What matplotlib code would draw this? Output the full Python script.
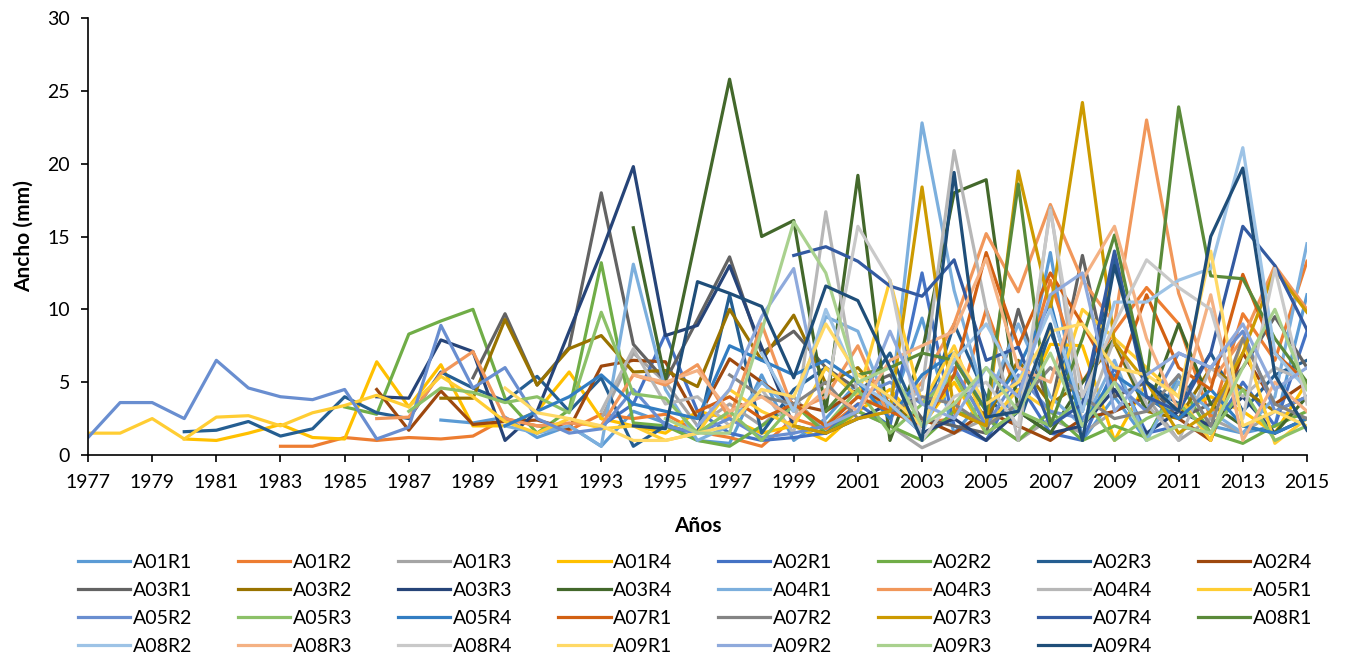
import numpy as np
import matplotlib
matplotlib.use("Agg")
from matplotlib import pyplot as plt

years = list(range(1977, 2016))
nan = np.nan

# (first year, widths in mm)
A01R1 = (1988, [2.4, 2.2, 2.6, 1.2, 2.0, 0.6, 3.0, 2.2, 1.0, 0.8, 5.5, 1.0, 2.5, 5.0, 3.0, 9.4, 1.5, 4.0, 3.0, 13.9, 1.0, 4.0, 1.0, 5.5, 2.0, 1.5, 2.0, 11.0])
A01R2 = (1983, [0.6, 0.6, 1.2, 1.0, 1.2, 1.1, 1.3, 2.5, 2.0, 1.7, 2.8, 2.5, 2.8, 1.6, 1.2, 0.6, 2.5, 1.8, 3.5, 4.0, 2.2, 2.5, 10.0, 4.0, 12.0, 5.0, 8.5, 11.5, 9.0, 2.5, 9.7, 6.5, 13.3])
A01R3 = (1993, [2.5, 7.0, 5.0, 2.0, 3.5, 2.0, 4.0, 1.5, 3.0, 2.0, 0.5, 1.5, 2.5, 1.0, 2.5, 1.5, 3.0, 4.0, 1.0, 2.5, 1.5, 3.0, 2.5])
A01R4 = (1980, [1.1, 1.0, 1.5, 2.1, 1.2, 1.1, 6.4, 3.3, 6.2, 2.0, 2.0, 3.0, 5.7, 2.5, 2.0, 1.5, 3.0, 2.5, 1.5, 2.0, 1.0, 3.0, 4.5, 2.0, 5.0, 1.5, 3.0, 7.6, 7.5, 1.0, 5.0, 3.0, 4.0, 3.0, 1.5, 5.0])
A02R1 = (1993, [2.0, 3.5, 8.3, 3.0, 1.5, 1.0, 1.2, 1.5, 3.5, 2.0, 12.5, 2.0, 1.0, 5.0, 1.5, 1.0, 6.0, 1.5, 2.0, 1.5, 5.0, 2.0, 8.5])
A02R2 = (1985, [3.3, 2.8, 8.3, 9.2, 10.0, 3.9, 1.5, 3.1, 13.2, 2.2, 2.0, 1.0, 0.6, 2.0, 3.5, 1.5, 3.0, 2.0, 1.0, 3.0, 2.5, 1.0, 3.0, 1.0, 2.0, 1.2, 5.0, 1.5, 0.8, 2.0, 3.0])
A02R3 = (1980, [1.6, 1.7, 2.3, 1.3, 1.8, 4.0, 2.9, 2.5, 5.7, 4.6, 3.7, 5.4, 3.0, 5.3, 0.6, 2.0, 1.5, 11.0, 1.5, 4.5, 6.0, 4.0, 7.0, 2.0, 9.0, 4.0, 2.0, 8.5, 3.0, 13.5, 5.0, 3.5, 7.0, 3.0, 5.5, 6.5])
A02R4 = (1986, [4.5, 1.7, 4.4, 2.1, 2.3, 2.4, 1.8, 6.1, 6.5, 6.4, 2.5, 6.6, 5.0, 3.5, 3.0, 4.5, 3.5, 2.5, 1.5, 3.0, 2.0, 1.0, 2.5, 3.0, 4.0, 2.5, 1.0, 7.0, 3.5, 5.0])
A03R1 = (1989, [5.3, 9.7, 4.8, 7.4, 18.0, 7.6, 5.1, 9.3, 13.6, 7.0, 8.5, 6.0, 4.5, 5.5, 2.5, 2.0, 1.5, 10.0, 3.0, 13.7, 4.0, 5.0, 2.5, 3.5, 6.0, 9.5, 6.0])
A03R2 = (1988, [3.9, 3.9, 9.3, 4.8, 7.3, 8.2, 5.7, 5.8, 4.7, 10.0, 6.5, 9.6, 4.9, 6.0, 3.5, 2.0, 5.5, 2.5, 6.5, 3.5, 5.0, 7.7, 3.0, 2.5, 6.0, 4.5, 3.0, 4.0])
A03R3 = (1986, [4.0, 3.9, 7.9, 7.1, 1.0, 3.0, 8.5, 13.9, 19.8, 8.2, 8.9, 13.0, 7.4, 2.0, 1.5, 2.5, 3.5, 1.5, 2.5, 1.0, 3.0, 1.5, 2.0, 4.5, 1.5, 3.0, 2.0, 4.0, 1.5, 2.5])
A03R4 = (1994, [15.6, 5.1, 15.4, 25.8, 15.0, 16.1, 3.0, 19.2, 1.0, 7.0, 18.0, 18.9, 3.0, 1.5, 5.0, 8.0, 3.0, 9.0, 3.5, 2.0, 1.5, 4.0])
A04R1 = (1990, [2.0, 1.5, 2.0, 0.6, 13.1, 4.5, 1.0, 2.0, 5.0, 3.0, 9.5, 8.5, 3.0, 22.8, 11.3, 3.5, 9.0, 4.0, 2.0, 6.5, 1.0, 5.0, 3.0, 1.5, 4.0, 14.5])
A04R3 = (1986, [2.5, 2.6, 5.6, 7.1, 2.5, 2.0, 2.2, 2.0, 5.5, 4.8, 6.2, 2.5, 9.0, 3.0, 4.0, 7.5, 2.5, 5.0, 9.0, 15.2, 11.2, 17.2, 12.0, 9.0, 23.0, 11.1, 5.0, 8.0, 13.0, 10.0])
A04R4 = (1993, [3.0, 7.3, 3.5, 4.0, 2.0, 4.5, 1.5, 16.7, 4.0, 3.0, 4.5, 20.9, 10.0, 1.0, 17.0, 2.0, 8.0, 3.5, 1.0, 6.0, 4.0, 6.0, 5.0])
A05R1 = (1977, [1.5, 1.5, 2.5, 1.1, 2.6, 2.7, 2.0, 2.9, 3.4, 4.1, 3.3, 5.4, 4.0, 2.3, 1.5, 2.5, 1.8, 2.0, 1.0, 1.5, 4.5, 3.0, 2.0, 6.0, 4.0, 12.0, 3.5, 7.5, 2.0, 4.5, 3.0, 10.0, 8.0, 6.0, 4.0, 1.0, 8.0, 0.8, 2.5])
A05R2 = (1977, [1.2, 3.6, 3.6, 2.5, 6.5, 4.6, 4.0, 3.8, 4.5, 1.1, 1.9, 8.9, 4.6, 6.0, 2.5, 1.5, 1.8, 4.5, 2.0, 1.5, 2.5, 1.2, 1.5, 2.0, 4.0, 5.0, 3.5, 6.0, 2.0, 5.5, 3.0, 2.5, 5.0, 3.0, 7.0, 6.0, 8.5, 3.0, 4.0])
A05R3 = (1987, [3.0, 4.6, 4.3, 3.6, 4.0, 2.9, 9.8, 4.2, 3.9, 1.5, 3.0, 1.0, 3.5, 2.0, 4.5, 1.5, 3.5, 5.5, 1.5, 3.0, 2.0, 4.0, 1.0, 2.5, 3.5, 1.5, 4.5, 1.0, 2.0])
A05R4 = (1990, [2.0, 3.0, 4.0, 5.5, 3.5, 3.0, 2.5, 7.5, 6.5, 5.5, 6.5, 5.0, 2.5, 5.5, 7.0, 3.0, 6.0, 10.5, 2.0, 5.5, 4.0, 2.5, 4.5, 2.0, 1.5, 2.5])
A07R1 = (1996, [3.0, 4.0, 2.5, 3.5, 2.0, 4.0, 3.0, 2.0, 5.5, 13.9, 7.5, 12.5, 9.0, 5.0, 11.0, 6.0, 4.5, 12.4, 7.0, 5.0])
A07R2 = (1997, [5.5, 4.0, 3.5, 5.0, 2.5, 3.0, 4.0, 3.5, 2.0, 3.5, 6.0, 4.0, 2.5, 3.0, 5.5, 2.0, 8.0, 3.5, 2.5])
A07R3 = (1999, [2.0, 1.5, 2.5, 3.0, 18.4, 3.0, 2.0, 19.5, 10.0, 24.2, 7.7, 5.0, 1.5, 3.0, 7.0, 12.7, 9.8])
A07R4 = (1999, [13.7, 14.3, 13.3, 11.6, 10.9, 13.4, 6.5, 7.4, 2.0, 3.5, 14.0, 4.0, 3.0, 7.0, 15.7, 13.0, 8.6])
A08R1 = (2000, [3.0, 5.5, 6.0, 7.0, 6.5, 3.0, 18.6, 2.0, 8.0, 15.1, 5.0, 23.9, 12.3, 12.1, 8.0, 5.0])
A08R2 = (1998, [7.0, 3.0, 10.0, 5.0, 3.5, 1.5, 6.5, 9.0, 5.0, 10.0, 3.0, 10.5, 10.5, 12.0, 12.8, 21.1, 7.0, 4.5])
A08R3 = (1994, [5.5, 5.0, 5.8, 3.0, 4.0, 2.5, 4.5, 3.0, 6.5, 7.5, 8.5, 13.5, 6.0, 5.0, 12.0, 15.7, 8.0, 3.0, 11.0, 1.0, 5.0, 3.0])
A08R4 = (2000, [4.0, 15.7, 12.0, 1.0, 4.0, 5.0, 2.0, 16.8, 4.0, 9.0, 13.4, 11.5, 10.0, 2.5, 12.8, 3.5])
A09R1 = (1990, [4.6, 2.9, 2.5, 2.0, 1.0, 1.0, 1.5, 2.0, 4.5, 4.0, 9.0, 5.5, 4.0, 2.0, 7.0, 3.5, 5.0, 8.5, 9.0, 6.0, 5.5, 4.0, 14.0, 2.0, 3.0, 2.0])
A09R2 = (1996, [2.0, 4.5, 9.5, 12.8, 2.0, 3.0, 8.5, 3.5, 2.5, 6.0, 4.0, 11.0, 12.5, 3.0, 5.5, 7.0, 6.0, 9.0, 4.5, 6.0])
A09R3 = (1995, [2.5, 1.5, 1.5, 8.5, 16.0, 12.5, 5.0, 6.0, 2.0, 3.5, 6.0, 3.0, 7.0, 2.0, 5.0, 1.0, 2.0, 1.5, 6.0, 10.0, 4.5])
A09R4 = (1994, [2.0, 1.8, 11.9, 11.1, 10.2, 5.3, 11.6, 10.6, 6.0, 1.0, 19.4, 2.6, 3.0, 9.0, 1.0, 13.0, 5.0, 3.0, 15.0, 19.7, 5.5, 1.7])

series = [("A01R1", A01R1), ("A01R2", A01R2), ("A01R3", A01R3), ("A01R4", A01R4),
          ("A02R1", A02R1), ("A02R2", A02R2), ("A02R3", A02R3), ("A02R4", A02R4),
          ("A03R1", A03R1), ("A03R2", A03R2), ("A03R3", A03R3), ("A03R4", A03R4),
          ("A04R1", A04R1), ("A04R3", A04R3), ("A04R4", A04R4), ("A05R1", A05R1),
          ("A05R2", A05R2), ("A05R3", A05R3), ("A05R4", A05R4), ("A07R1", A07R1),
          ("A07R2", A07R2), ("A07R3", A07R3), ("A07R4", A07R4), ("A08R1", A08R1),
          ("A08R2", A08R2), ("A08R3", A08R3), ("A08R4", A08R4), ("A09R1", A09R1),
          ("A09R2", A09R2), ("A09R3", A09R3), ("A09R4", A09R4)]

colors = ["#5B9BD5", "#ED7D31", "#A5A5A5", "#FFC000", "#4472C4", "#70AD47",
          "#255E91", "#9E480E", "#636363", "#997300", "#264478", "#43682B",
          "#7CAFDD", "#F1975A", "#B7B7B7", "#FFCD33", "#698ED0", "#8CC168",
          "#327DC2", "#D26012", "#848484", "#CC9A00", "#335AA1", "#5A8A39",
          "#9DC3E6", "#F4B183", "#C9C9C9", "#FFD966", "#8FAADC", "#A9D18E",
          "#1F4E79"]

plt.rcParams['font.family'] = ['Lato', 'DejaVu Sans']

fig = plt.figure(figsize=(13.46, 6.58), dpi=100)
ax = fig.add_axes([0.0654, 0.3085, 0.9056, 0.6641])

handles = []
for (name, (start, vals)), c in zip(series, colors):
    y = [nan] * (start - years[0]) + vals
    y = y + [nan] * (len(years) - len(y))
    h, = ax.plot(years, y[:len(years)], color=c, lw=2.3, label=name)
    handles.append(h)

ax.set_xlim(1977, 2015)
ax.set_ylim(0, 30)
ax.set_xticks(range(1977, 2016, 2))
ax.set_yticks(range(0, 31, 5))
ax.tick_params(axis='both', labelsize=14, length=5, width=1.2, direction='out')
ax.tick_params(axis='x', pad=9)
ax.tick_params(axis='y', pad=8)
for s in ['top', 'right']:
    ax.spines[s].set_visible(False)
for s in ['left', 'bottom']:
    ax.spines[s].set_linewidth(1.2)
ax.set_ylabel("Ancho (mm)", fontsize=15, fontweight='bold', labelpad=10)
ax.set_xlabel("Años", fontsize=15, fontweight='bold', labelpad=18)

# legend reads row by row: reorder for matplotlib's column filling
ncol = 8
order = []
for j in range(ncol):
    order += list(range(j, len(handles), ncol))
fig.legend([handles[i] for i in order], [series[i][0] for i in order],
           loc='upper left', bbox_to_anchor=(0.052, 0.170, 0.929, 0.0), mode='expand',
           ncol=ncol, frameon=False, fontsize=14, handlelength=2.7, handletextpad=0.15,
           labelspacing=0.56, borderaxespad=0.)

fig.savefig("out.png", dpi=100)
